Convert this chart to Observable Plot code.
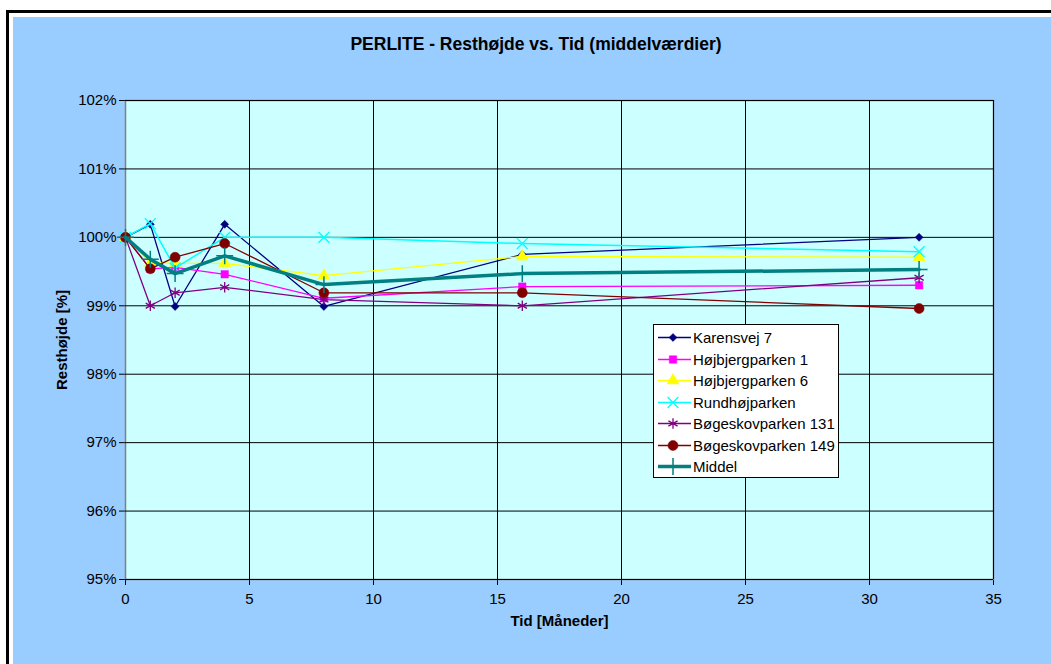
<!DOCTYPE html>
<html>
<head>
<meta charset="utf-8">
<script src="https://cdn.jsdelivr.net/npm/d3@7"></script>
<script src="https://cdn.jsdelivr.net/npm/@observablehq/plot@0.6"></script>
<style>
  body { margin: 0; background: #fff; font-family: "Liberation Sans", Arial, sans-serif; }
  #page { position: relative; width: 1051px; height: 664px; overflow: hidden; }
  #border { position: absolute; left: 6px; top: 10px; width: 2000px; height: 2000px;
            border-left: 3px solid #000; border-top: 3px solid #000; }
  #area { position: absolute; left: 13px; top: 17px; right: 0; bottom: 0; background: #99CCFF; }
  #title { position: absolute; left: 0; width: 1072px; top: 36px; line-height: 1;
           text-align: center; font-weight: bold; font-size: 17.5px; color: #000; }
  #chart { position: absolute; left: 0; top: 0; }
  #chart svg [aria-label$="axis label"] text, #chart svg g[aria-label$="axis label"] { font-weight: bold; font-size: 15px; }
  #legend { position: absolute; left: 653px; top: 324px; width: 184px; height: 150px;
            background: #fff; border: 1px solid #000; padding-top: 2px; box-sizing: content-box; }
  .row { display: flex; align-items: center; height: 21.5px; font-size: 15px; white-space: nowrap; }
  .row svg { flex: none; }
</style>
</head>
<body>
<div id="page">
  <div id="border"></div>
  <div id="area"></div>
  <div id="title">PERLITE - Resthøjde vs. Tid (middelværdier)</div>
  <div id="chart"></div>
  <div id="legend"></div>
</div>
<script>
// Measurement times (months) and mean remaining height (%) per site
const months = [0, 1, 2, 4, 8, 16, 32];
const karensvej7   = [100, 100.19, 98.99, 100.19, 98.99, 99.75, 100.00];
const hojbjerg1    = [100, 99.54, 99.56, 99.46, 99.11, 99.28, 99.30];
const hojbjerg6    = [100, 99.63, 99.62, 99.62, 99.44, 99.72, 99.71];
const rundhoj      = [100, 100.20, 99.55, 100.00, 100.00, 99.91, 99.79];
const bogeskov131  = [100, 99.00, 99.19, 99.27, 99.09, 99.00, 99.41];
const bogeskov149  = [100, 99.54, 99.71, 99.91, 99.19, 99.19, 98.96];
const middel       = [100, 99.68, 99.47, 99.73, 99.31, 99.47, 99.53];

const seriesNames = ["Karensvej 7", "Højbjergparken 1", "Højbjergparken 6", "Rundhøjparken",
                     "Bøgeskovparken 131", "Bøgeskovparken 149", "Middel"];
const seriesValues = [karensvej7, hojbjerg1, hojbjerg6, rundhoj, bogeskov131, bogeskov149, middel];

const xTicks = [0, 5, 10, 15, 20, 25, 30, 35];
const yTicks = [95, 96, 97, 98, 99, 100, 101, 102];

// Line/marker styling per series
const styles = [
  {color: "#000080", symbol: "diamond2", filled: true,  r: 3.6, width: 1.3},
  {color: "#FF00FF", symbol: "square",   filled: true,  r: 4.2, width: 1.3},
  {color: "#FFFF00", symbol: "triangle", filled: true,  r: 4.5, width: 1.3},
  {color: "#00FFFF", symbol: "times",    filled: false, r: 5,   width: 1.5},
  {color: "#800080", symbol: "asterisk", filled: false, r: 5,   width: 1.3},
  {color: "#800000", symbol: "circle",   filled: true,  r: 5,   width: 1.3},
  {color: "#008080", symbol: "plus",     filled: false, r: 5.5, width: 3.5}
];

const rows = seriesNames.map((name, s) => months.map((t, i) => ({name, t, v: seriesValues[s][i]})));

const seriesMarks = rows.flatMap((data, s) => {
  const st = styles[s];
  return [
    Plot.line(data, {x: "t", y: "v", stroke: st.color, strokeWidth: st.width}),
    Plot.dot(data, st.filled
      ? {x: "t", y: "v", symbol: () => st.symbol, fill: st.color, stroke: st.color, strokeWidth: 0.5, r: st.r}
      : {x: "t", y: "v", symbol: () => st.symbol, fill: "none", stroke: st.color, strokeWidth: st.symbol === "plus" ? 1.5 : 1.3, r: st.r})
  ];
});

const chart = Plot.plot({
  width: 1051,
  height: 664,
  marginLeft: 125,
  marginRight: 58,
  marginTop: 100,
  marginBottom: 85,
  style: {background: "transparent", fontFamily: "'Liberation Sans', Arial, sans-serif", fontSize: "15px", color: "#000", overflow: "visible"},
  symbol: {type: "identity"},
  x: {domain: [0, 35], ticks: xTicks, tickSize: 6, tickPadding: 8, label: "Tid [Måneder]", labelArrow: "none",
      labelAnchor: "center", labelOffset: 46},
  y: {domain: [95, 102], ticks: yTicks, tickFormat: d => d + "%", tickSize: 6, tickPadding: 3,
      label: "Resthøjde [%]", labelArrow: "none", labelAnchor: "center", labelOffset: 69},
  marks: [
    Plot.frame({fill: "#CCFFFF", stroke: "#7f7f7f", strokeWidth: 1.5}),
    Plot.ruleX(xTicks.slice(1), {stroke: "#000", strokeWidth: 1}),
    Plot.ruleY(yTicks, {stroke: "#000", strokeWidth: 1}),
    ...seriesMarks
  ]
});
document.getElementById("chart").appendChild(chart);

// Legend built from the same series styles
const symMap = {diamond2: d3.symbolDiamond2, square: d3.symbolSquare, triangle: d3.symbolTriangle,
                times: d3.symbolTimes, asterisk: d3.symbolAsterisk, circle: d3.symbolCircle, plus: d3.symbolPlus};
const legend = d3.select("#legend");
seriesNames.forEach((name, s) => {
  const st = styles[s];
  const row = legend.append("div").attr("class", "row");
  const svg = row.append("svg").attr("width", 39).attr("height", 21);
  svg.append("line").attr("x1", 4).attr("x2", 37).attr("y1", 10.5).attr("y2", 10.5)
    .attr("stroke", st.color).attr("stroke-width", st.width);
  svg.append("path")
    .attr("transform", "translate(19,10.5)")
    .attr("d", d3.symbol(symMap[st.symbol], st.r * st.r * Math.PI)())
    .attr("fill", st.filled ? st.color : "none")
    .attr("stroke", st.color)
    .attr("stroke-width", st.filled ? 0.5 : (st.symbol === "plus" ? 1.5 : 1.3));
  row.append("span").text(name);
});
</script>
</body>
</html>
